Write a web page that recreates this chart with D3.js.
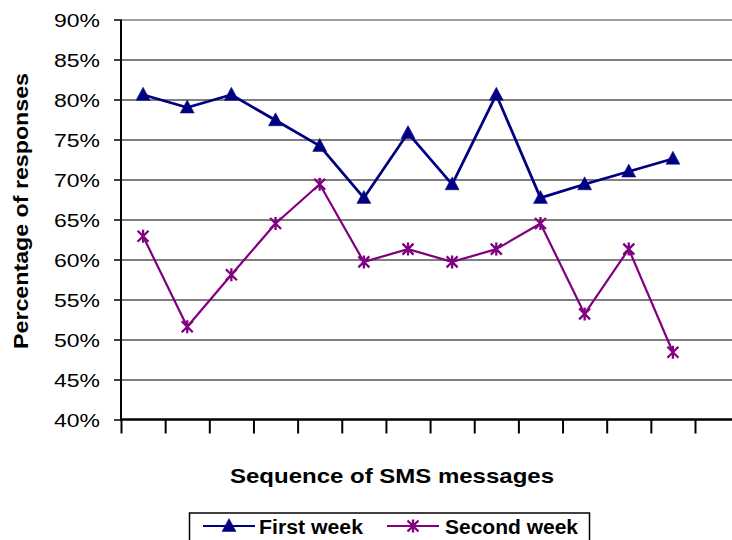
<!DOCTYPE html>
<html>
<head>
<meta charset="utf-8">
<script src="https://cdn.jsdelivr.net/npm/d3@7"></script>
<style>
  body { margin: 0; background: #fff; }
  svg { display: block; font-family: "Liberation Sans", Arial, sans-serif; }
</style>
</head>
<body>
<svg id="chart" width="732" height="540"></svg>
<script>
// Chart data
const categories = ["1", "2", "3", "4", "5", "6", "7", "8", "9", "10", "11", "12", "13"];
const firstWeek = [0.806, 0.790, 0.806, 0.774, 0.742, 0.677, 0.758, 0.694, 0.806, 0.677, 0.694, 0.710, 0.726];
const secondWeek = [0.629, 0.516, 0.581, 0.645, 0.694, 0.597, 0.613, 0.597, 0.613, 0.645, 0.532, 0.613, 0.484];
const yTicks = [0.40, 0.45, 0.50, 0.55, 0.60, 0.65, 0.70, 0.75, 0.80, 0.85, 0.90];
const seriesNames = ["First week", "Second week"];

const navy = "#000080", purple = "#800080";

const svg = d3.select("#chart");
svg.append("rect").attr("width", 732).attr("height", 540).attr("fill", "#fff");

const plotLeft = 121, plotEnd = 695, plotRight = 732;
const plotTop = 19.5, plotBottom = 419.5;

const x = d3.scaleBand().domain(categories).range([plotLeft, plotEnd]);
const xEdge = d3.scaleLinear().domain([0, categories.length]).range([plotLeft, plotEnd]);
const y = d3.scaleLinear().domain([0.40, 0.90]).range([plotBottom, plotTop]);

// Gridlines
svg.append("g")
    .attr("transform", `translate(${plotLeft},0)`)
    .call(d3.axisLeft(y).tickValues(yTicks.slice(1)).tickSize(-(plotRight - plotLeft)).tickFormat(""))
    .call(g => g.select(".domain").remove())
    .selectAll("line")
    .attr("stroke", d => d === 0.90 ? "#808080" : "#000")
    .attr("stroke-width", d => d === 0.90 ? 1.5 : 1);

// Y axis
const yAxis = svg.append("g")
    .attr("transform", `translate(${plotLeft},0)`)
    .call(d3.axisLeft(y).tickValues(yTicks).tickSize(7).tickPadding(14).tickFormat(d3.format(".0%")));
yAxis.select(".domain").attr("stroke-width", 2).attr("d", `M0,${plotTop}V${plotBottom + 1}`);
yAxis.selectAll("line").attr("stroke-width", 1.5);
yAxis.selectAll("text")
    .style("font-size", "17.5px")
    .attr("fill", "#000")
    .attr("dy", "0.4em")
    .attr("textLength", 46)
    .attr("lengthAdjust", "spacingAndGlyphs");

// X axis (ticks at category boundaries)
const xAxis = svg.append("g")
    .attr("transform", `translate(0,${plotBottom})`)
    .call(d3.axisBottom(xEdge).tickValues(d3.range(categories.length + 1)).tickSize(14).tickSizeOuter(0).tickFormat(""));
xAxis.select(".domain").attr("stroke-width", 2.5).attr("d", `M${plotLeft - 1},0H${plotRight}`);
xAxis.selectAll("line").attr("stroke-width", 2);

// Axis titles
svg.append("text")
    .attr("x", 230).attr("y", 483)
    .attr("textLength", 324).attr("lengthAdjust", "spacingAndGlyphs")
    .style("font-size", "20.5px").style("font-weight", "bold")
    .text("Sequence of SMS messages");

svg.append("text")
    .attr("transform", "translate(28,211) rotate(-90)")
    .attr("text-anchor", "middle")
    .attr("textLength", 276).attr("lengthAdjust", "spacingAndGlyphs")
    .style("font-size", "20.5px").style("font-weight", "bold")
    .text("Percentage of responses");

// Markers
const triangle = "M0,-7.5L7,5.5L-7,5.5Z";
const star = "M-5.5,-5.5L5.5,5.5M-5.5,5.5L5.5,-5.5M0,-6.5L0,6.5";

const cx = d => x(d) + x.bandwidth() / 2;

function drawSeries(values, color, width, marker) {
    const pts = categories.map((c, i) => [cx(c), y(values[i])]);
    svg.append("path")
        .datum(pts)
        .attr("fill", "none")
        .attr("stroke", color)
        .attr("stroke-width", width)
        .attr("stroke-linejoin", "round")
        .attr("d", d3.line());
    svg.selectAll(null)
        .data(pts)
        .enter().append("path")
        .attr("transform", d => `translate(${d[0]},${d[1]})`)
        .attr("d", marker)
        .attr("fill", marker === triangle ? color : "none")
        .attr("stroke", color)
        .attr("stroke-width", marker === triangle ? 0.5 : 2.3);
}

drawSeries(secondWeek, purple, 2.2, star);
drawSeries(firstWeek, navy, 2.75, triangle);

// Legend
const legend = svg.append("g");
legend.append("rect")
    .attr("x", 189.5).attr("y", 513)
    .attr("width", 400).attr("height", 40)
    .attr("fill", "#fff").attr("stroke", "#000").attr("stroke-width", 1.5);

const legendItems = [
    { name: seriesNames[0], color: navy, width: 2, marker: triangle, x0: 203, x1: 255, tx: 259, tl: 104 },
    { name: seriesNames[1], color: purple, width: 2, marker: star, x0: 387, x1: 439, tx: 445, tl: 133 }
];

legendItems.forEach(d => {
    legend.append("line")
        .attr("x1", d.x0).attr("x2", d.x1).attr("y1", 526).attr("y2", 526)
        .attr("stroke", d.color).attr("stroke-width", d.width);
    legend.append("path")
        .attr("transform", `translate(${(d.x0 + d.x1) / 2},526)`)
        .attr("d", d.marker)
        .attr("fill", d.marker === triangle ? d.color : "none")
        .attr("stroke", d.color)
        .attr("stroke-width", d.marker === triangle ? 0.5 : 2.3);
    legend.append("text")
        .attr("x", d.tx).attr("y", 533.5)
        .attr("textLength", d.tl).attr("lengthAdjust", "spacingAndGlyphs")
        .style("font-size", "19.5px").style("font-weight", "bold")
        .text(d.name);
});
</script>
</body>
</html>
